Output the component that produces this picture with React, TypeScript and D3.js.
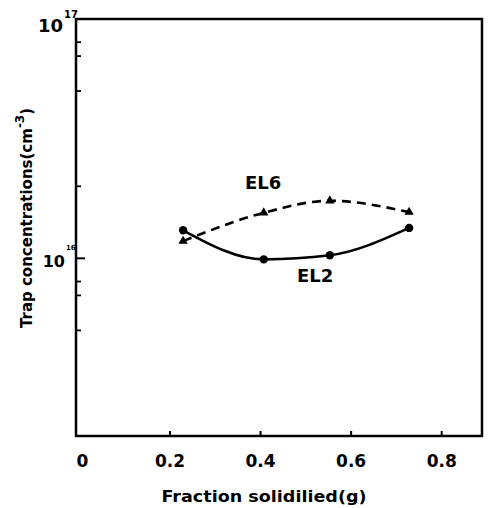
import React from 'react';
import * as d3 from 'd3';

// values
const fraction = [0.229, 0.407, 0.553, 0.728];
const el2 = [1.31e16, 0.99e16, 1.03e16, 1.34e16];
const el6 = [1.18e16, 1.55e16, 1.74e16, 1.56e16];
const xTicks = [0, 0.2, 0.4, 0.6, 0.8];
const xTickLabels = ['0', '0.2', '0.4', '0.6', '0.8'];
const yMajor = [1e16, 1e17];
const yMajorExp = ['16', '17'];
const yMinor = [8e16, 7e16, 5e16, 2e16, 8e15, 7e15, 5e15];

const font = "'DejaVu Sans', sans-serif";

const App = () => {
  const left = 76, right = 482, top = 19, bottom = 436;
  const x = d3.scaleLinear().domain([-0.0075, 0.889]).range([left, right]);
  const y = d3.scaleLog().domain([1.81e15, 1e17]).range([bottom, top]);

  const line = d3.line<number>()
    .x((d, i) => x(fraction[i]))
    .y(d => y(d))
    .curve(d3.curveMonotoneX);

  const tri = d3.symbol().type(d3.symbolTriangle).size(38)();

  return (
    <svg width={493} height={508} style={{ position: 'absolute', left: 0, top: 0, background: '#fff' }}
      fontFamily={font} fontWeight="bold">
      {/* frame */}
      <rect x={left} y={top} width={right - left} height={bottom - top} fill="none" stroke="#000" strokeWidth={2.5} />

      {/* y ticks */}
      {yMajor.map((v, i) => (
        <g key={'ym' + i}>
          {v < 1e17 && <line x1={left} x2={left + 9} y1={y(v)} y2={y(v)} stroke="#000" strokeWidth={2} />}
          <text x={i === 1 ? 63 : 65} y={y(v) + (i === 1 ? 13 : 9)} fontSize={i === 1 ? 18 : 16} textAnchor="end">10</text>
          <text x={i === 1 ? 64 : 66} y={y(v) + (i === 1 ? -1 : -8)} fontSize={i === 1 ? 10 : 7}>{yMajorExp[i]}</text>
        </g>
      ))}
      {yMinor.map((v, i) => (
        <line key={'yn' + i} x1={left} x2={left + 5} y1={y(v)} y2={y(v)} stroke="#000" strokeWidth={1.8} />
      ))}

      {/* x ticks */}
      {xTicks.map((t, i) => (
        <g key={'xt' + i}>
          {t > 0 && <line x1={x(t)} x2={x(t)} y1={bottom} y2={bottom - 5} stroke="#000" strokeWidth={2} />}
          <text x={x(t) + (t === 0 ? 3 : 0)} y={467} fontSize={17} textAnchor="middle">{xTickLabels[i]}</text>
        </g>
      ))}

      {/* axis titles */}
      <text x={264} y={502} fontSize={16} textAnchor="middle" textLength={205} lengthAdjust="spacingAndGlyphs">
        Fraction  solidilied(g)
      </text>
      <text transform="translate(32,218) rotate(-90)" fontSize={15} textAnchor="middle">
        Trap  concentrations(cm<tspan fontSize={12} dy={-8}>-3</tspan><tspan dy={8}>)</tspan>
      </text>

      {/* series */}
      <path d={line(el6) ?? ''} fill="none" stroke="#000" strokeWidth={2.6} strokeDasharray="9,6" />
      <path d={line(el2) ?? ''} fill="none" stroke="#000" strokeWidth={2.6} />
      {el6.map((v, i) => (
        <path key={'t' + i} d={tri ?? ''} transform={`translate(${x(fraction[i])},${y(v)})`} fill="#000" />
      ))}
      {el2.map((v, i) => (
        <circle key={'c' + i} cx={x(fraction[i])} cy={y(v)} r={4.2} fill="#000" />
      ))}

      {/* series labels */}
      <text x={245} y={189} fontSize={18}>EL6</text>
      <text x={297} y={282} fontSize={18}>EL2</text>
    </svg>
  );
};

export default App;
